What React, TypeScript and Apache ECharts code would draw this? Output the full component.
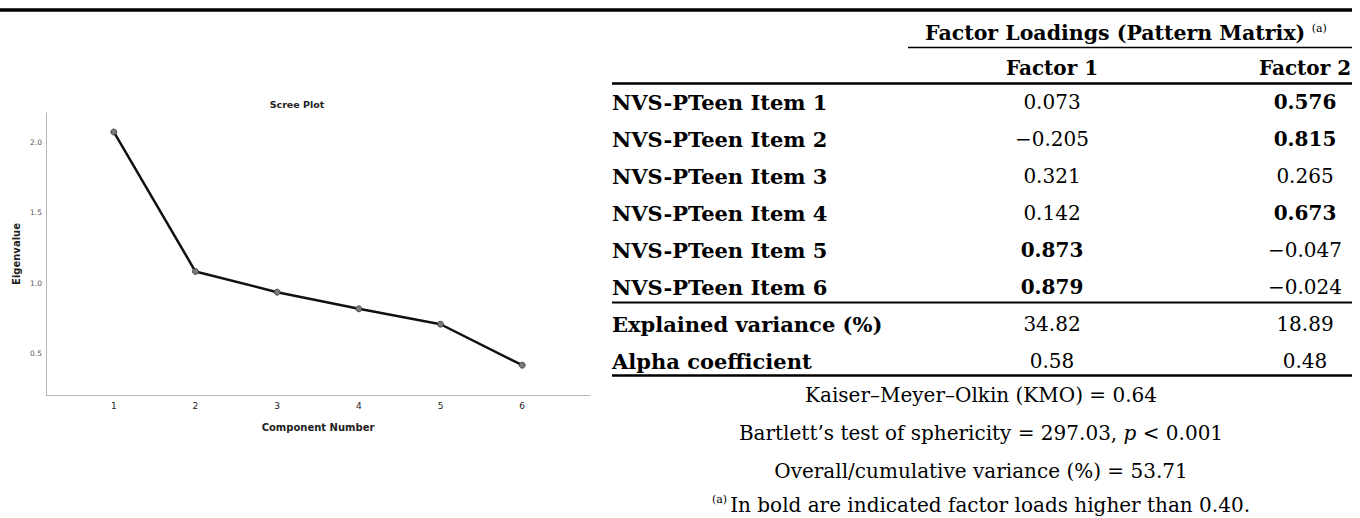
import React, { useEffect, useRef } from "react";
import * as echarts from "echarts";

// ---- Scree plot data ----
const components = [1, 2, 3, 4, 5, 6];
const eigenvalues = [2.075, 1.083, 0.936, 0.818, 0.708, 0.417];
const yTickValues = [0.5, 1.0, 1.5, 2.0];
const xTickValues = [1, 2, 3, 4, 5, 6];

// ---- Table data ----
const columnGroupHeader = "Factor Loadings (Pattern Matrix)";
const columnHeaders = ["Factor 1", "Factor 2"];
const itemLabels = [
  "NVS-PTeen Item 1",
  "NVS-PTeen Item 2",
  "NVS-PTeen Item 3",
  "NVS-PTeen Item 4",
  "NVS-PTeen Item 5",
  "NVS-PTeen Item 6",
];
const factor1 = [0.073, -0.205, 0.321, 0.142, 0.873, 0.879];
const factor2 = [0.576, 0.815, 0.265, 0.673, -0.047, -0.024];
const explainedVariance = [34.82, 18.89];
const alphaCoefficient = [0.58, 0.48];
const boldThreshold = 0.4;
const kmoValue = 0.64;
const bartlettValue = 297.03;
const pValueText = "0.001";
const cumulativeVariance = 53.71;

const SERIF = "DejaVu Serif";
const SANS = "DejaVu Sans";

const fmt = (v: number, d: number) =>
  (v < 0 ? "\u2212" : "") + Math.abs(v).toFixed(d);

function txt(
  text: string,
  x: number,
  y: number,
  opts: { size?: number; weight?: string; align?: string; rich?: any; family?: string; fill?: string } = {}
) {
  const align = opts.align || "left";
  return {
    type: "text",
    x,
    y,
    silent: true,
    style: {
      text,
      fontFamily: opts.family || SERIF,
      fontSize: opts.size || 20,
      fontWeight: opts.weight || "normal",
      fill: opts.fill || "#000",
      align,
      verticalAlign: "middle",
      textAlign: align,
      textVerticalAlign: "middle",
      rich: opts.rich,
    },
  };
}

function rule(x1: number, x2: number, y: number, w: number) {
  return {
    type: "line",
    silent: true,
    shape: { x1, y1: y, x2, y2: y },
    style: { stroke: "#000", lineWidth: w },
  };
}

export default function App() {
  const ref = useRef<HTMLDivElement>(null);

  useEffect(() => {
    document.body.style.margin = "0";
    if (!ref.current) return;
    const chart = echarts.init(ref.current, undefined, { renderer: "svg" });

    const tableLeft = 612;
    const tableRight = 1352;
    const col1X = 1052;
    const col2X = 1305;
    const rowY0 = 102;
    const rowStep = 37;
    const footCenter = 981;

    const graphics: any[] = [];
    // Scree plot title
    graphics.push(
      txt("Scree Plot", 297, 104, { size: 9.5, weight: "bold", align: "center", family: SANS, fill: "#222" })
    );

    // Rules
    graphics.push(rule(0, 1352, 10, 3.5));
    graphics.push(rule(908, tableRight, 47.5, 1.6));
    graphics.push(rule(tableLeft, tableRight, 83.5, 2.4));
    graphics.push(rule(tableLeft, tableRight, 302.5, 2));
    graphics.push(rule(tableLeft, tableRight, 375.5, 2.4));

    // Header
    graphics.push(
      txt(`{h|${columnGroupHeader}} {s|(a)}`, 925, 31.7, {
        rich: {
          h: { fontFamily: SERIF, fontSize: 20.5, fontWeight: "bold", fill: "#000", lineHeight: 24, verticalAlign: "bottom" },
          s: { fontFamily: SERIF, fontSize: 11, fontWeight: "normal", fill: "#000", lineHeight: 24, verticalAlign: "top", padding: [3, 0, 0, 0] },
        },
      })
    );
    graphics.push(txt(columnHeaders[0], col1X, 68.3, { weight: "bold", align: "center" }));
    graphics.push(txt(columnHeaders[1], col2X, 68.3, { weight: "bold", align: "center" }));

    // Item rows
    itemLabels.forEach((label, i) => {
      const y = rowY0 + i * rowStep;
      graphics.push(txt(label, tableLeft, y, { size: 21, weight: "bold" }));
      graphics.push(
        txt(fmt(factor1[i], 3), col1X, y, {
          weight: Math.abs(factor1[i]) > boldThreshold ? "bold" : "normal",
          align: "center",
        })
      );
      graphics.push(
        txt(fmt(factor2[i], 3), col2X, y, {
          weight: Math.abs(factor2[i]) > boldThreshold ? "bold" : "normal",
          align: "center",
        })
      );
    });

    const yExp = rowY0 + 6 * rowStep;
    const yAlpha = rowY0 + 7 * rowStep;
    graphics.push(txt("Explained variance (%)", tableLeft, yExp, { size: 21, weight: "bold" }));
    graphics.push(txt(fmt(explainedVariance[0], 2), col1X, yExp, { align: "center" }));
    graphics.push(txt(fmt(explainedVariance[1], 2), col2X, yExp, { align: "center" }));
    graphics.push(txt("Alpha coefficient", tableLeft, yAlpha, { size: 21, weight: "bold" }));
    graphics.push(txt(fmt(alphaCoefficient[0], 2), col1X, yAlpha, { align: "center" }));
    graphics.push(txt(fmt(alphaCoefficient[1], 2), col2X, yAlpha, { align: "center" }));

    // Footer lines
    const baseRich = { fontFamily: SERIF, fontSize: 20, fill: "#000", lineHeight: 22 };
    graphics.push(
      txt(`Kaiser\u2013Meyer\u2013Olkin (KMO) = ${kmoValue.toFixed(2)}`, footCenter, 394.7, { align: "center" })
    );
    graphics.push(
      txt(`{n|Bartlett\u2019s test of sphericity = ${bartlettValue.toFixed(2)}, }{i|p}{n| < ${pValueText}}`, footCenter, 433, {
        align: "center",
        rich: {
          n: { ...baseRich },
          i: { ...baseRich, fontStyle: "italic" },
        },
      })
    );
    graphics.push(
      txt(`Overall/cumulative variance (%) = ${cumulativeVariance.toFixed(2)}`, footCenter, 471.3, { align: "center" })
    );
    graphics.push(
      txt(`{s|(a)}{n|In bold are indicated factor loads higher than ${boldThreshold.toFixed(2)}.}`, footCenter, 504, {
        align: "center",
        rich: {
          n: { ...baseRich, verticalAlign: "bottom" },
          s: { ...baseRich, fontSize: 11, verticalAlign: "top", padding: [1, 3, 0, 0] },
        },
      })
    );

    chart.setOption({
      animation: false,
      backgroundColor: "#fff",
      grid: { left: 46, right: 1360 - 590, top: 113, bottom: 518 - 395, containLabel: false },
      xAxis: {
        type: "value",
        min: 0.17,
        max: 6.83,
        name: "Component Number",
        nameLocation: "middle",
        nameGap: 27,
        nameTextStyle: { fontFamily: SANS, fontSize: 10, fontWeight: "bold", color: "#222" },
        axisLine: { show: true, lineStyle: { color: "#b8b8b8", width: 1 } },
        axisTick: { show: false },
        splitLine: { show: false },
        axisLabel: {
          customValues: xTickValues,
          formatter: (v: number) => String(Math.round(v)),
          fontFamily: SANS,
          fontSize: 9,
          color: "#222",
          margin: 6,
        },
      },
      yAxis: {
        type: "value",
        min: 0.205,
        max: 2.21,
        name: "Eigenvalue",
        nameLocation: "middle",
        nameGap: 25,
        nameTextStyle: { fontFamily: SANS, fontSize: 10, fontWeight: "bold", color: "#222" },
        axisLine: { show: true, lineStyle: { color: "#b8b8b8", width: 1 } },
        axisTick: { show: false },
        splitLine: { show: false },
        axisLabel: {
          customValues: yTickValues,
          formatter: (v: number) => v.toFixed(1),
          fontFamily: SANS,
          fontSize: 7.5,
          color: "#555",
          margin: 4,
        },
      },
      series: [
        {
          type: "line",
          data: components.map((c, i) => [c, eigenvalues[i]]),
          symbol: "circle",
          symbolSize: 6,
          lineStyle: { color: "#111", width: 2.5 },
          itemStyle: { color: "#7a7a7a", borderColor: "#333", borderWidth: 0.8 },
          z: 3,
        },
      ],
      graphic: graphics,
    });

    return () => chart.dispose();
  }, []);

  return <div ref={ref} style={{ width: 1360, height: 518 }} />;
}
